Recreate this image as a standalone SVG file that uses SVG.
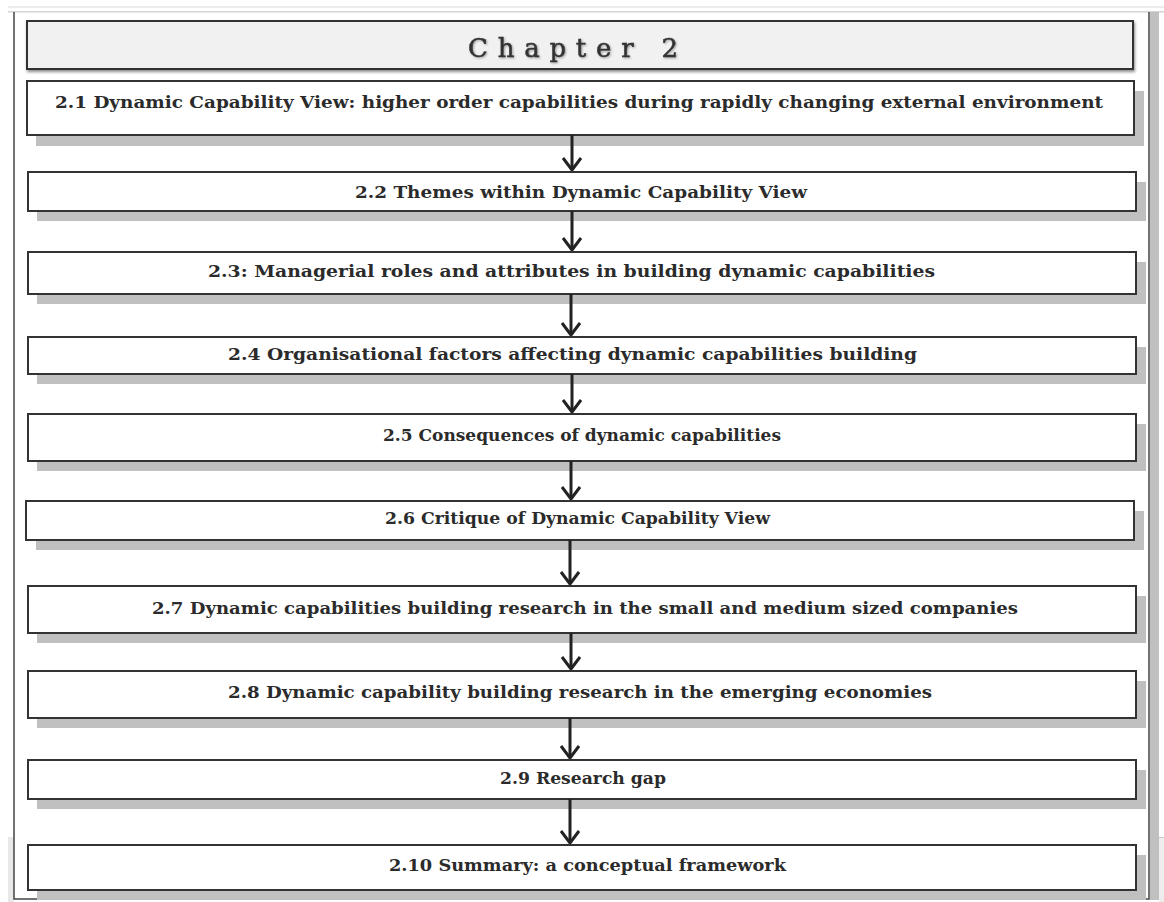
<svg xmlns="http://www.w3.org/2000/svg" width="1164" height="902" viewBox="0 0 1164 902">
  <style>
    .frame { fill: none; stroke: #444; stroke-width: 1.5; }
    .shadow { fill: #c0c0c0; }
    .box { fill: #ffffff; stroke: #333; stroke-width: 2; }
    .label { font-family: "DejaVu Serif", "Liberation Serif", serif; font-weight: bold; font-size: 16px; fill: #2b2b2b; }
    .title { font-family: "DejaVu Serif", "Liberation Serif", serif; font-size: 26px; fill: #333; stroke: #333; stroke-width: 0.5; }
    .conn { stroke: #222; stroke-width: 3; fill: none; }
  </style>
  <defs>
    <filter id="soft" x="-5%" y="-30%" width="110%" height="180%">
      <feDropShadow dx="1" dy="2" stdDeviation="1.5" flood-color="#000" flood-opacity="0.45"/>
    </filter>
    <filter id="textsoft" x="-5%" y="-20%" width="110%" height="150%">
      <feDropShadow dx="1" dy="1" stdDeviation="1" flood-color="#000" flood-opacity="0.35"/>
    </filter>
    <!-- open V arrowhead, drawn along +x so orient="auto" turns it with the line -->
    <marker id="head" viewBox="0 0 14 20" refX="13" refY="10" markerWidth="14" markerHeight="20" markerUnits="userSpaceOnUse" orient="auto">
      <path d="M1,1 L13,10 L1,19" fill="none" stroke="#222" stroke-width="3"/>
    </marker>
  </defs>

  <rect width="1164" height="902" fill="#ffffff"/>

  <!-- page edges behind the frame -->
  <g id="page">
    <rect x="8" y="6" width="1156" height="2" fill="#ececec"/>
    <rect x="8" y="11" width="1156" height="1.5" fill="#d4d4d4"/>
    <rect x="8" y="837" width="6" height="65" fill="#e8e8e8"/>
    <rect x="1159" y="837" width="5" height="65" fill="#ededed"/>
    <line x1="1151" y1="837.5" x2="1164" y2="837.5" stroke="#c8c8c8" stroke-width="1"/>
    <rect x="1150" y="12" width="9" height="888" fill="#c0c0c0"/>
  </g>

  <!-- outer frame -->
  <path class="frame" d="M14,12 L14,899 L1149,899 L1149,12"/>

  <!-- title -->
  <g id="chapter">
    <rect x="27" y="21" width="1106" height="48" fill="#f1f1f1" stroke="#333" stroke-width="2" filter="url(#soft)"/>
    <text class="title" x="468" y="57" textLength="210" lengthAdjust="spacing" filter="url(#textsoft)">Chapter 2</text>
  </g>

  <g id="s2-1">
    <rect class="shadow" x="36" y="91" width="1108" height="55"/>
    <rect class="box" x="27" y="81" width="1107" height="54"/>
    <text class="label" x="55" y="108" textLength="1048" lengthAdjust="spacingAndGlyphs">2.1 Dynamic Capability View: higher order capabilities during rapidly changing external environment</text>
  </g>

  <g id="s2-2">
    <rect class="shadow" x="37" y="182" width="1109" height="39"/>
    <rect class="box" x="28" y="172" width="1108" height="39"/>
    <text class="label" x="355" y="198" textLength="452" lengthAdjust="spacingAndGlyphs">2.2 Themes within Dynamic Capability View</text>
  </g>

  <g id="s2-3">
    <rect class="shadow" x="37" y="262" width="1109" height="42"/>
    <rect class="box" x="28" y="252" width="1108" height="42"/>
    <text class="label" x="208" y="277" textLength="727" lengthAdjust="spacingAndGlyphs">2.3: Managerial roles and attributes in building dynamic capabilities</text>
  </g>

  <g id="s2-4">
    <rect class="shadow" x="37" y="347" width="1109" height="37"/>
    <rect class="box" x="28" y="337" width="1108" height="37"/>
    <text class="label" x="228" y="360" textLength="689" lengthAdjust="spacingAndGlyphs">2.4 Organisational factors affecting dynamic capabilities building</text>
  </g>

  <g id="s2-5">
    <rect class="shadow" x="37" y="424" width="1109" height="47"/>
    <rect class="box" x="28" y="414" width="1108" height="47"/>
    <text class="label" x="383" y="441" textLength="398" lengthAdjust="spacingAndGlyphs">2.5 Consequences of dynamic capabilities</text>
  </g>

  <g id="s2-6">
    <rect class="shadow" x="36" y="511" width="1108" height="39"/>
    <rect class="box" x="26" y="501" width="1108" height="39"/>
    <text class="label" x="385" y="524" textLength="385" lengthAdjust="spacingAndGlyphs">2.6 Critique of Dynamic Capability View</text>
  </g>

  <g id="s2-7">
    <rect class="shadow" x="37" y="596" width="1109" height="47"/>
    <rect class="box" x="28" y="586" width="1108" height="47"/>
    <text class="label" x="152" y="614" textLength="866" lengthAdjust="spacingAndGlyphs">2.7 Dynamic capabilities building research in the small and medium sized companies</text>
  </g>

  <g id="s2-8">
    <rect class="shadow" x="37" y="681" width="1109" height="47"/>
    <rect class="box" x="28" y="671" width="1108" height="47"/>
    <text class="label" x="228" y="698" textLength="704" lengthAdjust="spacingAndGlyphs">2.8 Dynamic capability building research in the emerging economies</text>
  </g>

  <g id="s2-9">
    <rect class="shadow" x="37" y="770" width="1109" height="39"/>
    <rect class="box" x="28" y="760" width="1108" height="39"/>
    <text class="label" x="500" y="784" textLength="166" lengthAdjust="spacingAndGlyphs">2.9 Research gap</text>
  </g>

  <g id="s2-10">
    <rect class="shadow" x="37" y="855" width="1109" height="45"/>
    <rect class="box" x="28" y="845" width="1108" height="45"/>
    <text class="label" x="389" y="871" textLength="397" lengthAdjust="spacingAndGlyphs">2.10 Summary: a conceptual framework</text>
  </g>

  <!-- connectors -->
  <g id="connectors">
    <line class="conn" x1="572" y1="135" x2="572" y2="170" marker-end="url(#head)"/>
    <line class="conn" x1="572" y1="211" x2="572" y2="250" marker-end="url(#head)"/>
    <line class="conn" x1="571" y1="294" x2="571" y2="335" marker-end="url(#head)"/>
    <line class="conn" x1="572" y1="374" x2="572" y2="412" marker-end="url(#head)"/>
    <line class="conn" x1="571" y1="461" x2="571" y2="499" marker-end="url(#head)"/>
    <line class="conn" x1="570" y1="540" x2="570" y2="584" marker-end="url(#head)"/>
    <line class="conn" x1="571" y1="633" x2="571" y2="669" marker-end="url(#head)"/>
    <line class="conn" x1="570" y1="718" x2="570" y2="758" marker-end="url(#head)"/>
    <line class="conn" x1="570" y1="799" x2="570" y2="843" marker-end="url(#head)"/>
  </g>
</svg>
